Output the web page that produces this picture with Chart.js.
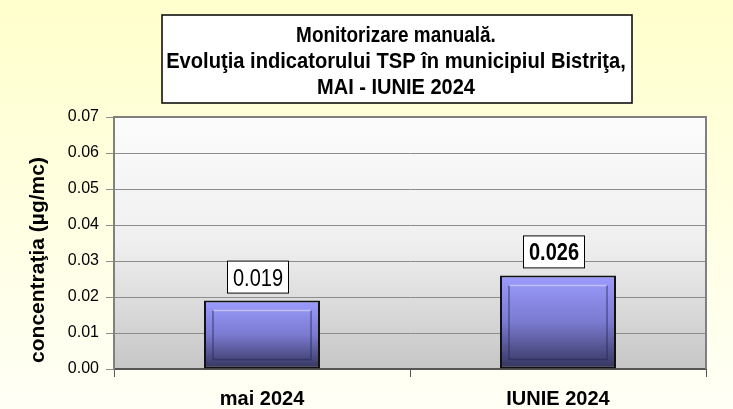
<!DOCTYPE html>
<html>
<head>
<meta charset="utf-8">
<script src="https://cdn.jsdelivr.net/npm/chart.js@4/dist/chart.umd.min.js"></script>
<style>
  body { margin: 0; background: #fff; }
  #cont { width: 733px; height: 409px; }
</style>
</head>
<body>
<div id="cont"><canvas id="grafic" width="733" height="409"></canvas></div>
<script>
const categorii = ['mai 2024', 'IUNIE 2024'];
const valori = [0.019, 0.026];
const eticheteValori = ['0.019', '0.026'];
const titluRanduri = ['Monitorizare manuală.', 'Evoluţia indicatorului TSP în municipiul Bistriţa,', 'MAI - IUNIE 2024'];
const titluAxaY = 'concentraţia (µg/mc)';

const FONT = '"Liberation Sans", Arial, sans-serif';

const fundalPlugin = {
    id: 'fundal',
    beforeDraw(chart) {
        const ctx = chart.ctx;
        const a = chart.chartArea;
        // fundal pagina
        let g = ctx.createLinearGradient(0, 0, 0, chart.height);
        g.addColorStop(0, '#FFFFCC');
        g.addColorStop(1, '#FFFFF6');
        ctx.fillStyle = g;
        ctx.fillRect(0, 0, chart.width, chart.height);
        // zona grafic
        g = ctx.createLinearGradient(0, a.top, 0, a.bottom);
        g.addColorStop(0, '#FCFCFC');
        g.addColorStop(0.5, '#EFEFEF');
        g.addColorStop(1, '#C6C6C6');
        ctx.fillStyle = g;
        ctx.fillRect(a.left, a.top, a.right - a.left, a.bottom - a.top);
        // caseta titlu
        ctx.fillStyle = '#FFFFFF';
        ctx.fillRect(162, 15, 470, 88);
        ctx.strokeStyle = '#000';
        ctx.lineWidth = 1.5;
        ctx.strokeRect(162, 15, 470, 88);
        ctx.fillStyle = '#000';
        ctx.font = 'bold 22px ' + FONT;
        ctx.textAlign = 'center';
        ctx.textBaseline = 'alphabetic';
        const yRand = [42, 68, 94];
        const scara = [0.86, 0.915, 0.91];
        titluRanduri.forEach((t, i) => {
            ctx.save();
            ctx.translate(396, yRand[i]);
            ctx.scale(scara[i], 1);
            ctx.fillText(t, 0, 0);
            ctx.restore();
        });
        // titlu axa Y
        ctx.save();
        ctx.translate(44, 260);
        ctx.rotate(-Math.PI / 2);
        ctx.font = 'bold 21px ' + FONT;
        ctx.fillText(titluAxaY, 0, 0);
        ctx.restore();
    },
    beforeDatasetsDraw(chart) {
        const ctx = chart.ctx;
        const a = chart.chartArea;
        ctx.strokeStyle = '#808080';
        ctx.lineWidth = 2;
        ctx.beginPath();
        ctx.moveTo(a.left, a.top);
        ctx.lineTo(a.right, a.top);
        ctx.lineTo(a.right, a.bottom);
        ctx.stroke();
    },
    afterDatasetsDraw(chart) {
        const ctx = chart.ctx;
        const meta = chart.getDatasetMeta(0);
        meta.data.forEach((bar, i) => {
            const w = bar.width;
            const x0 = bar.x - w / 2;
            const y0 = bar.y;
            const y1 = bar.base;
            // bizou interior
            const d = 9;
            ctx.lineWidth = 1.5;
            ctx.strokeStyle = 'rgba(200,200,255,0.85)';
            ctx.beginPath();
            ctx.moveTo(x0 + d, y0 + d + 1);
            ctx.lineTo(x0 + w - d, y0 + d + 1);
            ctx.stroke();
            ctx.strokeStyle = 'rgba(40,40,90,0.55)';
            ctx.beginPath();
            ctx.moveTo(x0 + d, y0 + d + 1);
            ctx.lineTo(x0 + d, y1 - d);
            ctx.lineTo(x0 + w - d, y1 - d);
            ctx.lineTo(x0 + w - d, y0 + d + 1);
            ctx.stroke();
            // eticheta valoare
            const bw = 62, bh = 33;
            const bx = bar.x - 4 - bw / 2;
            const by = y0 - 7 - bh;
            ctx.fillStyle = '#FFFFFF';
            ctx.fillRect(bx, by, bw, bh);
            ctx.strokeStyle = '#000';
            ctx.lineWidth = 1;
            ctx.strokeRect(bx + 0.5, by + 0.5, bw - 1, bh - 1);
            ctx.fillStyle = '#000';
            ctx.font = (i === 1 ? 'bold ' : '') + '23px ' + FONT;
            ctx.textAlign = 'center';
            ctx.textBaseline = 'alphabetic';
            ctx.save();
            ctx.translate(bx + bw / 2, by + bh / 2 + 8.5);
            ctx.scale(0.87, 1);
            ctx.fillText(eticheteValori[i], 0, 0);
            ctx.restore();
        });
    }
};

new Chart(document.getElementById('grafic'), {
    type: 'bar',
    data: {
        labels: categorii,
        datasets: [{
            label: 'TSP',
            data: valori,
            backgroundColor: function (context) {
                const chart = context.chart;
                const a = chart.chartArea;
                if (!a || !chart.scales.y) return '#8080E0';
                const top = chart.scales.y.getPixelForValue(context.raw);
                const g = chart.ctx.createLinearGradient(0, top, 0, a.bottom);
                g.addColorStop(0, '#9C9CFF');
                g.addColorStop(0.5, '#7A7AD0');
                g.addColorStop(1, '#34345C');
                return g;
            },
            borderColor: '#111111',
            borderWidth: 2,
            borderSkipped: false,
            barPercentage: 0.392,
            categoryPercentage: 1
        }]
    },
    options: {
        responsive: false,
        animation: false,
        layout: { padding: { top: 117, right: 27, left: 0, bottom: 0 } },
        plugins: {
            legend: { display: false },
            tooltip: { enabled: false }
        },
        scales: {
            x: {
                afterFit: function (scale) { scale.height = 40; },
                grid: {
                    offset: true,
                    drawOnChartArea: false,
                    drawTicks: true,
                    tickLength: 8,
                    color: '#555'
                },
                border: { color: '#555', width: 2 },
                ticks: {
                    color: '#000',
                    padding: 10,
                    font: { family: FONT, size: 20, weight: 'bold' }
                }
            },
            y: {
                min: 0,
                max: 0.07,
                afterFit: function (scale) { scale.width = 114; },
                grid: {
                    color: '#8C8C8C',
                    tickLength: 8,
                    drawTicks: true
                },
                border: { color: '#808080', width: 2 },
                ticks: {
                    stepSize: 0.01,
                    color: '#000',
                    padding: 7,
                    font: { family: FONT, size: 16 },
                    callback: function (v) { return v.toFixed(2); }
                }
            }
        }
    },
    plugins: [fundalPlugin]
});
</script>
</body>
</html>
